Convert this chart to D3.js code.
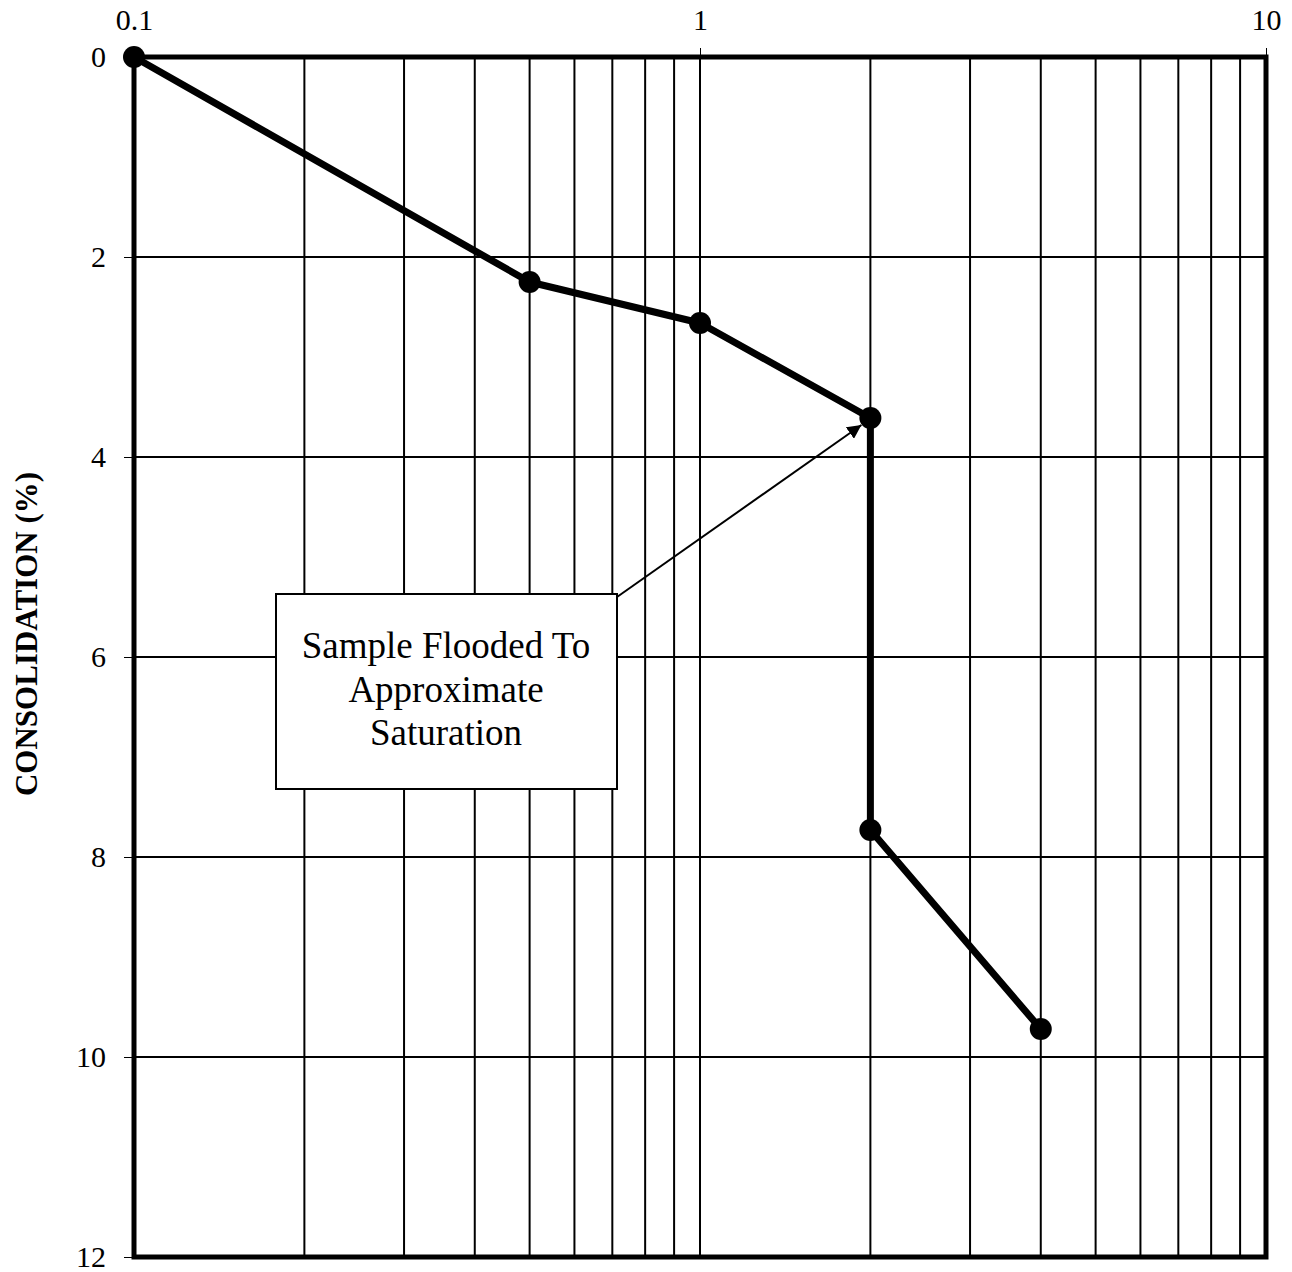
<!DOCTYPE html>
<html>
<head>
<meta charset="utf-8">
<script src="https://cdnjs.cloudflare.com/ajax/libs/d3/7.8.5/d3.min.js"></script>
<style>
  body { margin: 0; background: #fff; }
  text { font-family: "Liberation Serif", "Times New Roman", serif; fill: #000; }
</style>
</head>
<body>
<svg id="chart" width="1292" height="1272"></svg>
<script>
// data
var pressure = [0.1, 0.5, 1, 2, 2, 4];
var consolidation = [0, 2.25, 2.66, 3.61, 7.73, 9.72];
var xTicks = [0.1, 1, 10];
var yTicks = [0, 2, 4, 6, 8, 10, 12];
var noteLines = ['Sample Flooded To', 'Approximate', 'Saturation'];

var svg = d3.select('#chart');
var pLeft = 134, pRight = 1266, pTop = 57, pBottom = 1257;

var x = d3.scaleLog().domain([0.1, 10]).range([pLeft, pRight]);
var y = d3.scaleLinear().domain([0, 12]).range([pTop, pBottom]);

// minor grid for log axis
var gridX = [];
[0.1, 1].forEach(function(d) {
  for (var k = 2; k <= 9; k++) gridX.push(d * k);
});
gridX.push(1);

svg.append('g').selectAll('line').data(gridX).enter().append('line')
  .attr('x1', function(d) { return x(d); })
  .attr('x2', function(d) { return x(d); })
  .attr('y1', pTop).attr('y2', pBottom)
  .attr('stroke', '#000').attr('stroke-width', 2);

svg.append('g').selectAll('line').data(yTicks.slice(1, -1)).enter().append('line')
  .attr('x1', pLeft).attr('x2', pRight)
  .attr('y1', function(d) { return y(d); })
  .attr('y2', function(d) { return y(d); })
  .attr('stroke', '#000').attr('stroke-width', 2);

// axes
var xAxis = d3.axisTop(x).tickValues(xTicks).tickFormat(d3.format('')).tickSize(9).tickPadding(18);
var gx = svg.append('g').attr('transform', 'translate(0,' + pTop + ')').call(xAxis);
gx.select('.domain').remove();
gx.attr('font-size', null).attr('font-family', null);
gx.selectAll('text').style('font-size', '30px');

var yAxis = d3.axisLeft(y).tickValues(yTicks).tickSize(10).tickPadding(18);
var gy = svg.append('g').attr('transform', 'translate(' + pLeft + ',0)').call(yAxis);
gy.select('.domain').remove();
gy.attr('font-size', null).attr('font-family', null);
gy.selectAll('text').style('font-size', '30px');

// frame
svg.append('rect')
  .attr('x', pLeft).attr('y', pTop)
  .attr('width', pRight - pLeft).attr('height', pBottom - pTop)
  .attr('fill', 'none').attr('stroke', '#000').attr('stroke-width', 5);

// y label
svg.append('text')
  .attr('transform', 'translate(37,634) rotate(-90)')
  .attr('text-anchor', 'middle')
  .style('font-size', '31px').style('font-weight', 'bold')
  .text('CONSOLIDATION (%)');

// data line
var pts = pressure.map(function(p, i) { return [p, consolidation[i]]; });
svg.append('path')
  .datum(pts)
  .attr('fill', 'none').attr('stroke', '#000').attr('stroke-width', 7)
  .attr('stroke-linejoin', 'round')
  .attr('d', d3.line().x(function(d) { return x(d[0]); }).y(function(d) { return y(d[1]); }));

svg.append('g').selectAll('circle').data(pts).enter().append('circle')
  .attr('cx', function(d) { return x(d[0]); })
  .attr('cy', function(d) { return y(d[1]); })
  .attr('r', 11).attr('fill', '#000');

// annotation
svg.append('defs').append('marker')
  .attr('id', 'arrow').attr('viewBox', '0 0 10 10')
  .attr('refX', 10).attr('refY', 5)
  .attr('markerWidth', 7).attr('markerHeight', 7)
  .attr('orient', 'auto')
  .append('path').attr('d', 'M0,0L10,5L0,10z').attr('fill', '#000');

svg.append('line')
  .attr('x1', 617).attr('y1', 597)
  .attr('x2', x(2) - 9).attr('y2', y(3.61) + 7)
  .attr('stroke', '#000').attr('stroke-width', 2)
  .attr('marker-end', 'url(#arrow)');

svg.append('rect')
  .attr('x', 276).attr('y', 594)
  .attr('width', 341).attr('height', 195)
  .attr('fill', '#fff').attr('stroke', '#000').attr('stroke-width', 2);

svg.append('g').selectAll('text').data(noteLines).enter().append('text')
  .attr('x', 446)
  .attr('y', function(d, i) { return 658 + i * 43.5; })
  .attr('text-anchor', 'middle')
  .style('font-size', '37px')
  .text(function(d) { return d; });
</script>
</body>
</html>
